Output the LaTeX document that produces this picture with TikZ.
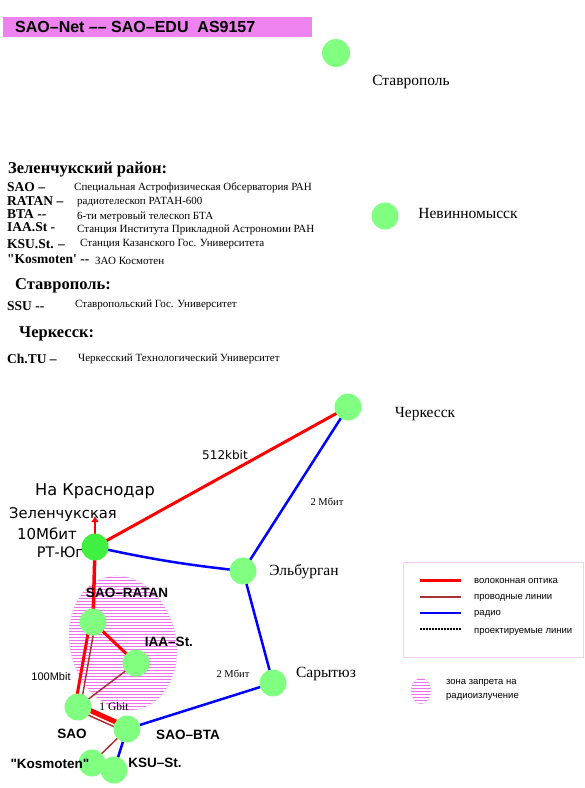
\documentclass[tikz,border=0pt]{standalone}
\usepackage{fontspec}
\setmainfont{Liberation Serif}[Ligatures=TeXOff]
\setsansfont{Liberation Sans}[Ligatures=TeXOff]
\newfontfamily\dejavu{DejaVu Sans}
\usetikzlibrary{arrows.meta,backgrounds,patterns}
\definecolor{hdrpink}{RGB}{238,130,238}
\definecolor{sitegreen}{RGB}{128,255,128}
\definecolor{hubgreen}{RGB}{64,240,64}
\definecolor{wirebrown}{RGB}{170,50,50}
\definecolor{zonepink}{RGB}{240,110,240}
\definecolor{boxpink}{RGB}{245,205,245}
\newcommand{\fs}[1]{\fontsize{#1}{#1}\selectfont}

\begin{document}
\begin{tikzpicture}[x=1pt,y=-1pt,>=Latex,site/.style={circle,fill=sitegreen,minimum size=27pt,inner sep=0pt},town/.style={font=\fs{15.5}},lbl/.style={font=\sffamily\bfseries\fs{13.5}},abbr/.style={anchor=west,font=\bfseries\fs{13.5},inner sep=0pt},desc/.style={anchor=west,font=\fs{11},inner sep=0pt},area/.style={anchor=west,font=\bfseries\fs{16.5},inner sep=0pt},rate/.style={font=\fs{10.5}},fiber/.style={red,line width=3pt},wire/.style={wirebrown,line width=1.5pt},radio/.style={blue,line width=2.5pt},zone/.style={pattern=horizontal lines,pattern color=zonepink,draw=boxpink,thin},legtxt/.style={anchor=west,font=\sffamily\fs{9.5},inner sep=0pt}]
\useasboundingbox (0,0) rectangle (585,788);
\fill[hdrpink] (3,17) rectangle (312,37);
\node[anchor=west,font=\sffamily\bfseries\fs{16},inner sep=0pt] (title) at (15,27) {SAO–Net –– SAO–EDU\ \ AS9157};
\node[area] (zrh) at (8,170) {Зеленчукский район:};
\node[abbr] (saoa) at (7,187) {SAO –};\node[desc] (saod) at (74,188) {Специальная Астрофизическая Обсерватория РАН};
\node[abbr] (ratana) at (7,201) {RATAN –};\node[desc] (ratand) at (77,202) {радиотелескоп РАТАН-600};
\node[abbr] (btaa) at (7,214) {BTA --};\node[desc] (btad) at (77,217) {6-ти метровый телескоп БТА};
\node[abbr] (iaaa) at (7,227) {IAA.St -};\node[desc] (iaad) at (77,230) {Станция Института Прикладной Астрономии РАН};
\node[abbr] (ksua) at (7,244) {KSU.St. –};\node[desc] (ksud) at (80,244) {Станция Казанского Гос. Университета};
\node[abbr] (kosa) at (7,259) {"Kosmoten' --};\node[desc] (kosd) at (95,261) {ЗАО Космотен};
\node[area] (svh) at (15,286) {Ставрополь:};
\node[abbr] (ssua) at (7,306) {SSU --};\node[desc] (ssud) at (75,305) {Ставропольский Гос. Университет};
\node[area] (chh) at (19,334) {Черкесск:};
\node[abbr] (chtua) at (7,359) {Ch.TU –};\node[desc] (chtud) at (78,359) {Черкесский Технологический Университет};
\node[site,minimum height=28pt] (stavropol) at (336,53) {};\node[town] (stavropoll) at (411,82) {Ставрополь};
\node[site] (nevinn) at (385,216) {};\node[town] (nevinnl) at (468,213) {Невинномысск};
\node[site] (cherkessk) at (348,407) {};\node[town] (cherkesskl) at (425,414) {Черкесск};
\node[site,fill=hubgreen] (rtyug) at (95,547) {};
\node[font=\dejavu\fs{16.2}] (krasnodarl) at (95,491) {На Краснодар};
\node[font=\dejavu\fs{14.7}] (zelenl) at (63,515) {Зеленчукская};
\node[font=\dejavu\fs{15}] (tenl) at (47,534) {10Мбит};
\node[font=\dejavu\fs{14.5}] (rtyugl) at (60,552) {РТ-Юг};
\coordinate (krasnodar) at (95,516);
\node[site] (elburgan) at (243,571) {};\node[town] (elburganl) at (304,572) {Эльбурган};
\node[site] (sarytyuz) at (273,683) {};\node[town] (sarytyuzl) at (326,674) {Сарытюз};
\node[site] (ratan) at (93,622) {};\node[lbl] (ratanl) at (127,593) {SAO–RATAN};
\node[site] (iaa) at (136,663) {};\node[lbl] (iaal) at (169,642) {IAA–St.};
\node[site] (sao) at (78,707) {};\node[lbl] (saol) at (72,734) {SAO};
\node[site] (bta) at (127,729) {};\node[lbl] (btal) at (188,735) {SAO–BTA};
\node[site] (kosmoten) at (92,763) {};\node[lbl] (kosmotenl) at (50,764) {"Kosmoten"};
\node[site] (ksu) at (114,770) {};\node[lbl] (ksul) at (155,763) {KSU–St.};
\node[font=\dejavu\fs{12}] (r512) at (225,455) {512kbit};
\node[rate] (r2a) at (327,502) {2 Мбит};
\node[rate] (r2b) at (233,674) {2 Мбит};
\node[font=\sffamily\fs{11}] (r100) at (51,677) {100Mbit};
\node[font=\fs{11.5}] (r1g) at (114,707) {1 Gbit};
\begin{scope}[on background layer]
\draw[zone,rotate around={14:(123,643)}] (123,643) ellipse[x radius=53,y radius=68];
\draw[fiber,line width=2.5pt,-{Latex[length=6pt,width=8pt]}] (rtyug.center) -- (krasnodar);
\draw[fiber] (rtyug.center) -- (cherkessk.center);
\draw[radio] (rtyug.center) to[bend right=3] (elburgan.center);
\draw[radio] (elburgan.center) -- (cherkessk.center);
\draw[radio] (elburgan.center) -- (sarytyuz.center);
\draw[radio] (sarytyuz.center) -- (bta.center);
\draw[fiber,line width=3.5pt] (rtyug.center) -- (ratan.center);
\draw[fiber] (ratan.center) -- (iaa.center);
\draw[fiber,transform canvas={xshift=-3pt}] (ratan.center) -- (sao.center);
\draw[wire,transform canvas={xshift=2.5pt}] (ratan.center) -- (sao.center);
\draw[wire] (iaa.center) -- (sao.center);
\draw[fiber,line width=5pt,transform canvas={yshift=2pt}] (sao.center) -- (bta.center);
\draw[wire,transform canvas={yshift=-3.5pt}] (sao.center) -- (bta.center);
\draw[wire] (bta.center) -- (kosmoten.center);
\draw[radio] (bta.center) -- (ksu.center);
\end{scope}
\draw[boxpink] (403,562) rectangle (583,657);
\draw[fiber] (420,580) -- (461,580);\node[legtxt] (legfiber) at (474,581) {волоконная оптика};
\draw[wire] (420,597) -- (461,597);\node[legtxt] (legwire) at (474,598) {проводные линии};
\draw[radio,line width=1.5pt] (420,613) -- (461,613);\node[legtxt] (legradio) at (474,614) {радио};
\draw[line width=1.5pt,dash pattern=on 2pt off 1pt] (420,629) -- (461,629);\node[legtxt] (legplan) at (474,632) {проектируемые линии};
\draw[zone] (421,691) ellipse[x radius=10,y radius=13];
\node[legtxt] (legzone1) at (446,683) {зона запрета на};\node[legtxt] (legzone2) at (446,697) {радиоизлучение};
\end{tikzpicture}
\end{document}
